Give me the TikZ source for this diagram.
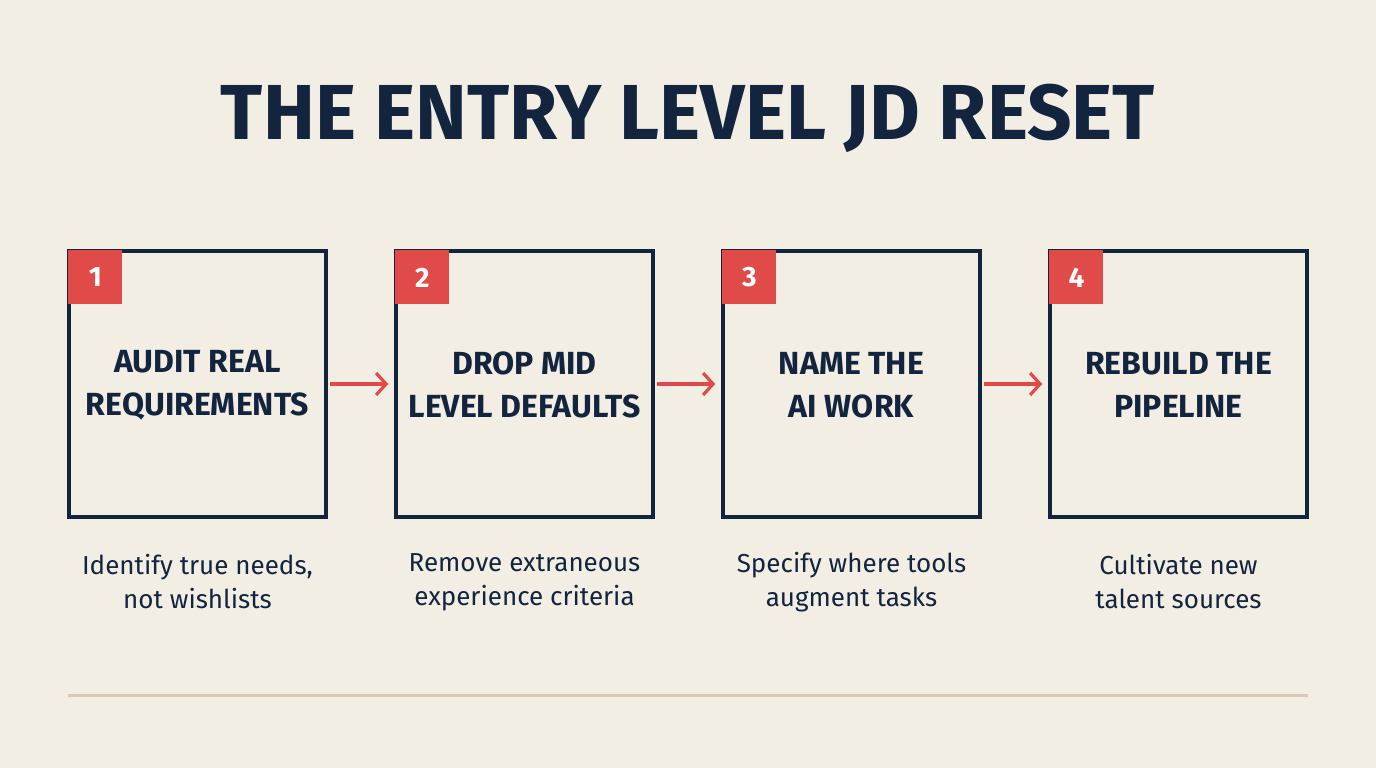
\documentclass[tikz,border=0pt]{standalone}
\usepackage{fontspec}
\setmainfont{Fira Sans}
\usetikzlibrary{arrows.meta,positioning}
\definecolor{bgcream}{HTML}{F3EEE3}
\definecolor{navy}{HTML}{13243F}
\definecolor{jdred}{HTML}{E04A48}
\definecolor{rule}{HTML}{D5CBB3}
\tikzset{
  stepbox/.style={draw=navy,line width=3.5pt,minimum width=257pt,minimum height=266pt,inner sep=0pt},
  num/.style={fill=jdred,text=white,minimum size=54pt,inner sep=0pt,font=\fontsize{28}{30}\selectfont\bfseries},
  steplabel/.style={text=navy,align=center,font=\fontsize{32}{43}\selectfont\bfseries},
  desc/.style={text=navy,align=center,font=\fontsize{26}{34}\selectfont},
  link/.style={-{Straight Barb[length=10pt,width=22pt]},draw=jdred,line width=3.2pt}
}
\begin{document}
\begin{tikzpicture}[x=1pt,y=-1pt]
  \fill[bgcream] (0,0) rectangle (1376,768);
  \useasboundingbox (0,0) rectangle (1376,768);

  % Title
  \node[text=navy,font=\fontsize{78}{86}\selectfont\bfseries] (title) at (688,118) {THE ENTRY LEVEL JD RESET};

  % Steps
  \foreach \i/\x/\lbl/\txt in {1/197.5/{AUDIT REAL\\REQUIREMENTS}/{Identify true needs,\\not wishlists},
                              2/524.5/{DROP MID\\LEVEL DEFAULTS}/{Remove extraneous\\experience criteria},
                              3/851.5/{NAME THE\\AI WORK}/{Specify where tools\\augment tasks},
                              4/1178.5/{REBUILD THE\\PIPELINE}/{Cultivate new\\talent sources}}{
    \node[stepbox] (box\i) at (\x,384) {};
    \node[num,anchor=north west] (num\i) at ([shift={(1,1)}]box\i.north west) {\i};
    \node[steplabel] (lbl\i) at (\x,385) {\lbl};
    \node[desc] (desc\i) at (\x,582) {\txt};
  }

  % Connectors
  \foreach \a/\b in {1/2,2/3,3/4}
    \draw[link] ([xshift=2pt]box\a.east) -- ([xshift=-6pt]box\b.west);

  % Bottom rule
  \draw[rule,line width=3pt] (68,695) -- (1308,695);
\end{tikzpicture}
\end{document}
